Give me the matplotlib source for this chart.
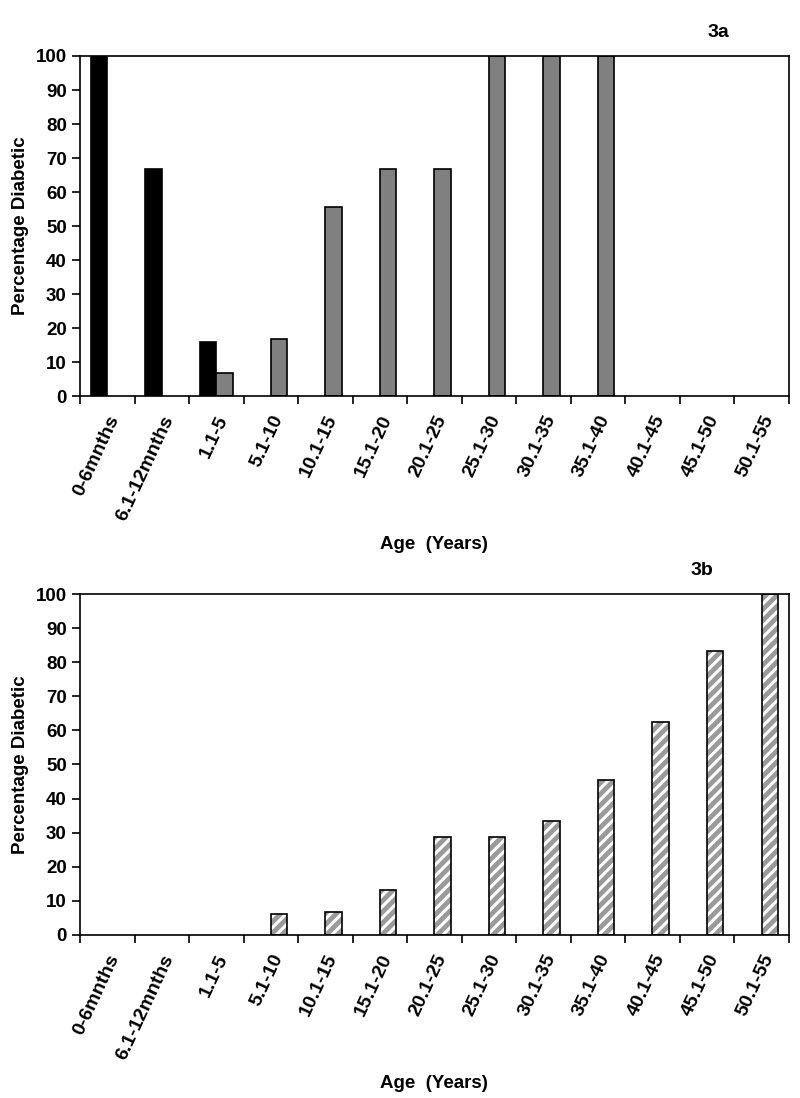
import numpy as np
import matplotlib.pyplot as plt

plt.rcParams['font.family'] = ['Liberation Sans', 'DejaVu Sans']
plt.rcParams['font.weight'] = 'bold'

ages = ['0-6mnths', '6.1-12mnths', '1.1-5', '5.1-10', '10.1-15', '15.1-20', '20.1-25',
        '25.1-30', '30.1-35', '35.1-40', '40.1-45', '45.1-50', '50.1-55']

# 3a
black_a = [100, 66.7, 15.8, 0, 0, 0, 0, 0, 0, 0, 0, 0, 0]
gray_a = [0, 0, 6.7, 16.7, 55.6, 66.7, 66.7, 100, 100, 100, 0, 0, 0]
# 3b
hatch_b = [0, 0, 0, 6.25, 6.7, 13.3, 28.6, 28.6, 33.3, 45.5, 62.5, 83.3, 100]

x = np.arange(len(ages)) + 0.5
w = 0.3


def edges(vals):
    return ['black' if v > 0 else 'none' for v in vals]


def style_axes(ax, tag, tag_x):
    ax.set_xlim(0, len(ages))
    ax.set_ylim(0, 100)
    ax.set_yticks(np.arange(0, 101, 10))
    ax.set_xticks(np.arange(0, len(ages) + 1))
    ax.set_xticklabels([])
    ax.set_xticks(x, minor=True)
    ax.set_xticklabels(ages, minor=True, rotation=65, ha='right', va='top',
                       rotation_mode='anchor', fontsize=14, fontweight='bold')
    ax.tick_params(axis='x', which='minor', length=0, pad=12)
    ax.tick_params(axis='x', which='major', length=6, width=1.2, direction='out')
    ax.tick_params(axis='y', length=6, width=1.2, labelsize=13.5)
    for s in ax.spines.values():
        s.set_linewidth(1.2)
    ax.set_ylabel('Percentage Diabetic', fontsize=13.5, fontweight='bold', labelpad=5)
    ax.set_xlabel('Age  (Years)', fontsize=13.5, fontweight='bold', labelpad=9)
    ax.text(tag_x, 1.07, tag, transform=ax.transAxes, fontsize=14, fontweight='bold',
            ha='left', va='center')


fig = plt.figure(figsize=(8, 10.98), dpi=100)
ax1 = fig.add_axes([0.1, 0.6393, 0.886, 0.3097])
ax2 = fig.add_axes([0.1, 0.1485, 0.886, 0.3105])

ax1.bar(x - w / 2, black_a, width=w, color='black', edgecolor=edges(black_a), linewidth=1.2)
ax1.bar(x + w / 2, gray_a, width=w, color='#808080', edgecolor=edges(gray_a), linewidth=1.2)
style_axes(ax1, '3a', 0.885)

plt.rcParams['hatch.linewidth'] = 2.2
ax2.bar(x + w / 2, hatch_b, width=w, color='#9a9a9a', edgecolor='white', hatch='///',
        linewidth=0)
ax2.bar(x + w / 2, hatch_b, width=w, fill=False, edgecolor=edges(hatch_b), linewidth=1.2)
style_axes(ax2, '3b', 0.862)

fig.savefig('out.png', dpi=100)
